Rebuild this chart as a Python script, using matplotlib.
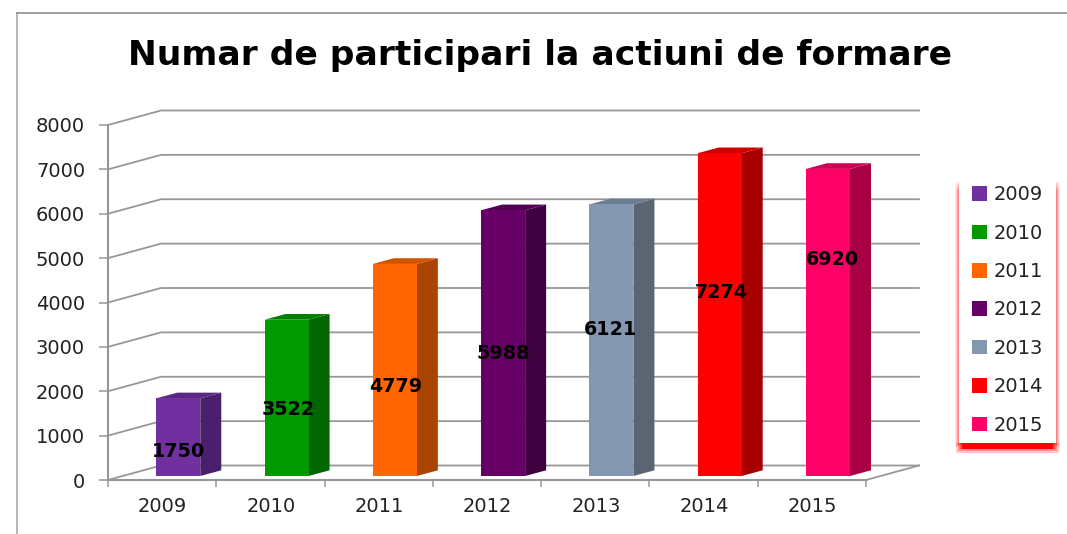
import matplotlib
matplotlib.use("Agg")
import matplotlib.pyplot as plt
from matplotlib.patches import Polygon, Rectangle

years = ["2009", "2010", "2011", "2012", "2013", "2014", "2015"]
values = [1750, 3522, 4779, 5988, 6121, 7274, 6920]
face_colors = ["#7030A0", "#009900", "#FF6600", "#660066", "#8497B0", "#FF0000", "#FF0066"]
side_colors = ["#4A1F6B", "#006600", "#A84300", "#3F003F", "#596573", "#A80000", "#A80044"]
top_colors = ["#5A2785", "#007F00", "#D05300", "#520052", "#6C7C91", "#D00000", "#D00054"]
y_ticks = [0, 1000, 2000, 3000, 4000, 5000, 6000, 7000, 8000]
label_heights = [550, 1500, 2020, 2760, 3300, 4130, 4870]
label_shifts = [0, 1.5, 1, 0, -1, 2, 4]

W, H = 1067, 534
fig = plt.figure(figsize=(W / 100, H / 100), dpi=100)
plt.rcParams["font.family"] = "DejaVu Sans"
L, R, T, B = 108, 866, 125, 480
ax = fig.add_axes([L / W, 1 - B / H, (R - L) / W, (B - T) / H])
ax.set_xlim(0, 7)
ax.set_ylim(0, 8000)
px_x = 7 / (R - L)
px_y = 8000 / (B - T)
GRID = "#979797"

# outer frame
fig.add_artist(plt.Line2D([8.5 / W * 2, 8.5 / W * 2], [0, 1 - 13 / H], color="#b0b0b0", lw=1.3))
fig.add_artist(plt.Line2D([17 / W, 1], [1 - 13 / H, 1 - 13 / H], color="#858585", lw=1.1))

# back wall and floor
wx, wy = 53 * px_x, 14.5 * px_y
for v in y_ticks:
    ax.plot([0, wx, 7 + wx], [v, v + wy, v + wy], color=GRID, lw=1.3, clip_on=False, zorder=1, solid_joinstyle="miter")
ax.plot([7, 7 + wx], [0, wy], color=GRID, lw=1.3, clip_on=False, zorder=1)

# axes
for s in ["top", "right"]:
    ax.spines[s].set_visible(False)
for s in ["left", "bottom"]:
    ax.spines[s].set_color(GRID)
    ax.spines[s].set_linewidth(1.5)
    ax.spines[s].set_zorder(1.5)
ax.patch.set_alpha(0)
ax.set_yticks(y_ticks)
ax.set_xticks(range(8))
ax.set_xticklabels([])
ax.set_xticks([i + 0.5 + 0.005 for i in range(7)], labels=years, minor=True)
ax.tick_params(axis="x", which="major", length=5, width=1.1, color=GRID)
ax.tick_params(axis="x", which="minor", length=0, pad=12, labelsize=14, labelcolor="#222222")
ax.tick_params(axis="y", length=6.5, width=1.1, color=GRID, pad=10, labelsize=14, labelcolor="#222222")

# bars
bw = 44 * px_x
off = 0.649 - bw / 2
dx, dy = 21 * px_x, 5.7 * px_y
base = 4 * px_y
xs = [i + off + bw / 2 for i in range(7)]
bars = ax.bar(xs, values, width=bw, bottom=base, color=face_colors, zorder=4, clip_on=False)
for x, v, sc, tc in zip(xs, values, side_colors, top_colors):
    l, r = x - bw / 2, x + bw / 2
    b, t = base, base + v
    ax.add_patch(Polygon([(r, b), (r + dx, b + dy), (r + dx, t + dy), (r, t)], fc=sc, ec="none", zorder=3, clip_on=False))
    ax.add_patch(Polygon([(l, t), (l + dx, t + dy), (r + dx, t + dy), (r, t)], fc=tc, ec="none", zorder=3, clip_on=False))

for x, h, s, lab in zip(xs, label_heights, label_shifts, values):
    ax.text(x + s * px_x, base + h, str(lab), ha="center", va="center", fontsize=13.8, fontweight="bold", color="black", zorder=6)

# title
fig.text(540 / W, 1 - 55 / H, "Numar de participari la actiuni de formare", ha="center", va="center",
         fontsize=24.8, fontweight="bold", color="black")

# legend box with red shadow
def frect(x0, y0, x1, y1, **kw):
    fig.add_artist(Rectangle((x0 / W, 1 - y1 / H), (x1 - x0) / W, (y1 - y0) / H, transform=fig.transFigure, ec="none", **kw))

for g, a in [(4, 0.10), (3, 0.12), (2, 0.18), (1, 0.25)]:
    frect(959 - g, 182, 1056 + g, 443 + g, fc="#FF0000", alpha=a)
for g, a in [(5, 0.2), (3, 0.3), (1, 0.4)]:
    frect(961 - g, 443, 1054 + g, 448 + g, fc="#FF0000", alpha=a)
frect(962, 443, 1053, 449, fc="#FF0000")
frect(959, 180, 1056, 443, fc="white")
for i in range(6):
    frect(950, 178 + i * 2, 1065, 180 + i * 2, fc="white", alpha=1 - i / 6)

handles = [Rectangle((0, 0), 1, 1, fc=c, ec="none") for c in face_colors]
fig.legend(handles, years, loc="center left", bbox_to_anchor=(972 / W, 1 - 310 / H), frameon=False,
           fontsize=14, handlelength=0.77, handleheight=0.77, handletextpad=0.35, labelspacing=1.0,
           labelcolor="#222222", borderpad=0, borderaxespad=0)

fig.savefig("out.png", dpi=100)
